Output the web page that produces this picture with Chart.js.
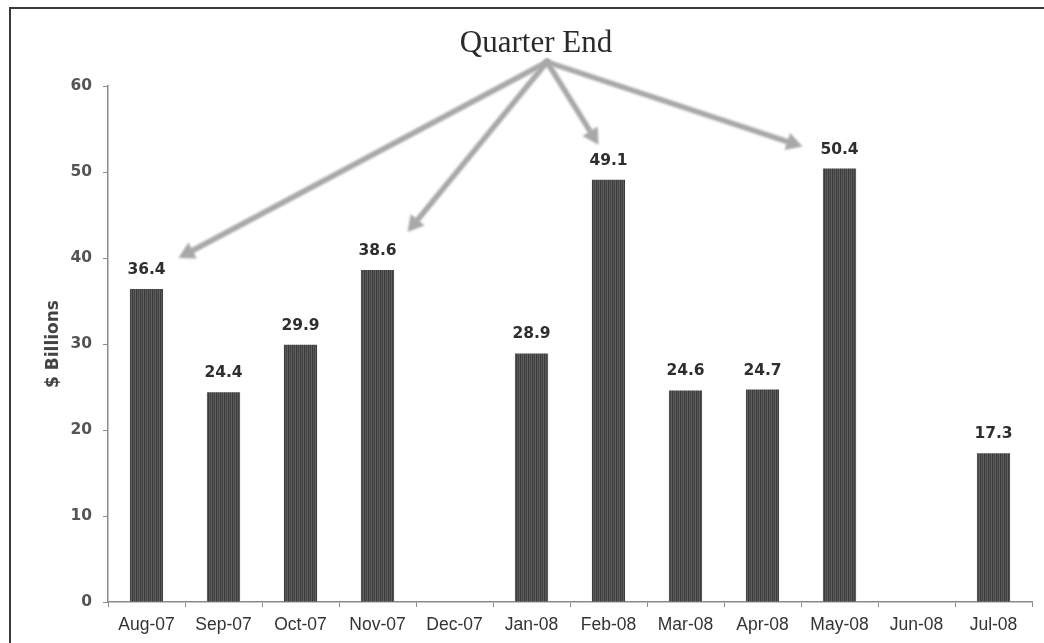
<!DOCTYPE html>
<html>
<head>
<meta charset="utf-8">
<title>Monthly volume</title>
<script src="https://cdn.jsdelivr.net/npm/chart.js@4.4.1/dist/chart.umd.min.js"></script>
<style>
  html, body { margin: 0; padding: 0; background: #fff; overflow: hidden; }
  #frame { position: absolute; left: 9px; top: 7px; width: 1100px; height: 700px;
           border-left: 2px solid #3a3a3a; border-top: 2px solid #3a3a3a; }
  #wrap { position: absolute; left: 0; top: 0; width: 1044px; height: 643px; }
</style>
</head>
<body>
<div id="frame"></div>
<div id="wrap"><canvas id="c"></canvas></div>
<script>
// Month labels along the x axis
const months = ['Aug-07', 'Sep-07', 'Oct-07', 'Nov-07', 'Dec-07', 'Jan-08',
                'Feb-08', 'Mar-08', 'Apr-08', 'May-08', 'Jun-08', 'Jul-08'];
// Monthly amounts, $ billions (no figure for Dec-07 and Jun-08)
const volumes = [36.4, 24.4, 29.9, 38.6, null, 28.9, 49.1, 24.6, 24.7, 50.4, null, 17.3];
// Y axis tick values
const yTicks = [0, 10, 20, 30, 40, 50, 60];
// Months that close a quarter, each gets a callout arrow
const quarterEnds = ['Aug-07', 'Nov-07', 'Feb-08', 'May-08'];
const calloutText = 'Quarter End';
const yAxisTitle = '$ Billions';

// Vertical-stripe fill for the bars
function stripeFill() {
  const p = document.createElement('canvas');
  p.width = 4; p.height = 4;
  const g = p.getContext('2d');
  const cols = ['#3b3b3b', '#575757', '#444444', '#5f5f5f'];
  cols.forEach((c, i) => { g.fillStyle = c; g.fillRect(i, 0, 1, 4); });
  return g.createPattern(p, 'repeat');
}

// Where each arrow ends, relative to the top centre of its bar
const arrowEnds = {
  'Aug-07': { dx: 32, dy: -31 },
  'Nov-07': { dx: 30, dy: -38 },
  'Feb-08': { dx: -10, dy: -35 },
  'May-08': { dx: -37, dy: -22 }
};

const annotations = {
  id: 'annotations',
  afterDatasetsDraw(chart) {
    const ctx = chart.ctx;
    const x = chart.scales.x, y = chart.scales.y;

    // value labels above the bars
    ctx.save();
    ctx.font = 'bold 15.5px "DejaVu Sans"';
    ctx.fillStyle = '#2e2e2e';
    ctx.textAlign = 'center';
    ctx.textBaseline = 'middle';
    chart.getDatasetMeta(0).data.forEach((bar, i) => {
      const v = volumes[i];
      if (v === null) return;
      ctx.fillText(v.toFixed(1), bar.x, bar.y - 19);
    });
    ctx.restore();

    // y axis title
    ctx.save();
    ctx.translate(54, (y.top + y.bottom) / 2);
    ctx.rotate(-Math.PI / 2);
    ctx.font = 'bold 17px "DejaVu Sans"';
    ctx.fillStyle = '#444';
    ctx.textAlign = 'center';
    ctx.textBaseline = 'middle';
    ctx.fillText(yAxisTitle, 0, 0);
    ctx.restore();

    // callout heading
    const headX = 536, headY = 52;
    ctx.save();
    ctx.font = '31px "Liberation Serif"';
    ctx.fillStyle = '#2a2a2a';
    ctx.textAlign = 'center';
    ctx.textBaseline = 'alphabetic';
    ctx.fillText(calloutText, headX, headY);
    ctx.restore();

    // arrows from the heading to each quarter-end bar
    const ox = headX + 11, oy = headY + 10;
    ctx.save();
    ctx.filter = 'blur(0.9px)';
    ctx.strokeStyle = '#a8a8a8';
    ctx.fillStyle = '#a8a8a8';
    ctx.lineWidth = 5.5;
    ctx.lineCap = 'round';
    quarterEnds.forEach(m => {
      const i = months.indexOf(m);
      const off = arrowEnds[m];
      const tx = x.getPixelForValue(i) + off.dx;
      const ty = y.getPixelForValue(volumes[i]) + off.dy;
      const ang = Math.atan2(ty - oy, tx - ox);
      const head = 16, half = 9;
      const bx = tx - head * Math.cos(ang), by = ty - head * Math.sin(ang);
      ctx.beginPath();
      ctx.moveTo(ox, oy);
      ctx.lineTo(bx, by);
      ctx.stroke();
      ctx.beginPath();
      ctx.moveTo(tx, ty);
      ctx.lineTo(bx + half * Math.sin(ang), by - half * Math.cos(ang));
      ctx.lineTo(bx - half * Math.sin(ang), by + half * Math.cos(ang));
      ctx.closePath();
      ctx.fill();
    });
    ctx.restore();
  }
};

new Chart(document.getElementById('c'), {
  type: 'bar',
  data: {
    labels: months,
    datasets: [{
      data: volumes,
      backgroundColor: stripeFill(),
      borderWidth: 0,
      barPercentage: 0.43,
      categoryPercentage: 1
    }]
  },
  options: {
    responsive: true,
    maintainAspectRatio: false,
    animation: false,
    layout: { padding: { top: 86, right: 12, left: 0, bottom: 0 } },
    plugins: { legend: { display: false }, tooltip: { enabled: false }, title: { display: false } },
    scales: {
      x: {
        grid: { drawOnChartArea: false, drawTicks: true, tickLength: 5, color: '#8a8a8a', offset: true },
        border: { color: '#8a8a8a', width: 1.5 },
        ticks: { font: { family: 'Liberation Sans', size: 17.5 }, color: '#333', padding: 8,
                 maxRotation: 0, autoSkip: false },
        afterFit(s) { s.height = 41; }
      },
      y: {
        min: 0, max: 60,
        afterBuildTicks(s) { s.ticks = yTicks.map(v => ({ value: v })); },
        grid: { drawOnChartArea: false, drawTicks: true, tickLength: 5, color: '#8a8a8a' },
        border: { color: '#8a8a8a', width: 1.5 },
        ticks: { font: { family: 'DejaVu Sans', size: 15.5, weight: 'bold' }, color: '#555', padding: 11 },
        afterFit(s) { s.width = 108; }
      }
    }
  },
  plugins: [annotations]
});
</script>
</body>
</html>
